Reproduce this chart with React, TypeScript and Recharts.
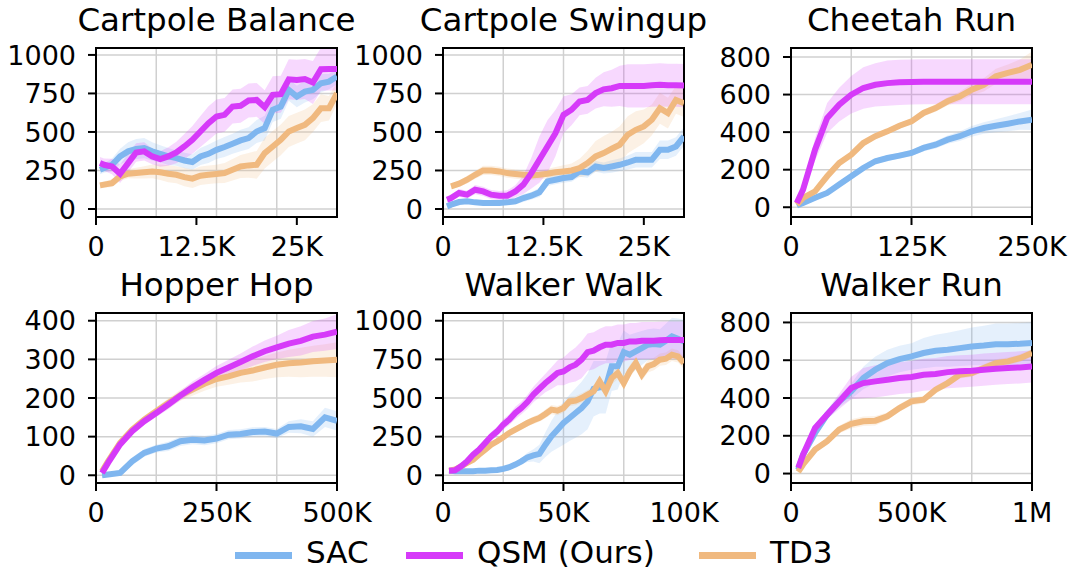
import React from "react";
import {
  ComposedChart,
  Line,
  Area,
  XAxis,
  YAxis,
  CartesianGrid,
  ReferenceArea,
} from "recharts";

const FONT = "'DejaVu Sans', sans-serif";
const SAC_COLOR = "#7fb6ef";
const QSM_COLOR = "#d63af9";
const TD3_COLOR = "#f0b97f";

const seriesNames = ["SAC", "QSM (Ours)", "TD3"];

// Cartpole Balance
const cbX = [500, 1000, 2000, 3000, 4000, 5000, 6000, 7000, 8000, 9000, 10000, 11000, 12000, 13000, 14000, 15000, 16000, 17000, 18000, 19000, 20000, 21000, 22000, 23000, 24000, 25000, 26000, 27000, 28000, 29000, 30000];
const cbSac = [255, 266, 287, 341, 374, 389, 395, 374, 358, 341, 330, 315, 305, 341, 358, 384, 402, 423, 445, 460, 503, 525, 644, 665, 773, 730, 762, 773, 816, 827, 860];
const cbQsm = [298, 287, 276, 229, 298, 367, 374, 341, 324, 341, 367, 406, 449, 503, 557, 600, 611, 665, 670, 704, 708, 661, 741, 745, 842, 838, 844, 821, 907, 909, 909];
const cbTd3 = [153, 158, 168, 212, 229, 233, 238, 244, 238, 229, 222, 207, 197, 216, 222, 227, 233, 255, 276, 283, 287, 363, 406, 449, 503, 525, 546, 590, 654, 654, 752];
const cbSacErr = [30, 30, 40, 50, 60, 65, 65, 60, 55, 55, 50, 50, 50, 55, 60, 60, 65, 65, 70, 70, 75, 80, 80, 80, 70, 70, 70, 60, 60, 50, 50];
const cbQsmErr = [40, 40, 50, 60, 60, 60, 60, 50, 50, 60, 70, 80, 90, 100, 110, 110, 110, 110, 110, 110, 110, 110, 120, 120, 130, 130, 130, 140, 140, 140, 140];
const cbTd3Err = [20, 20, 25, 30, 30, 35, 40, 45, 50, 55, 55, 60, 60, 60, 60, 60, 65, 70, 75, 80, 90, 100, 100, 100, 100, 100, 100, 90, 90, 80, 70];

// Cartpole Swingup
const csX = cbX;
const csSac = [17, 28, 45, 50, 43, 39, 39, 39, 43, 50, 71, 86, 108, 179, 190, 201, 207, 244, 238, 276, 266, 276, 287, 302, 320, 320, 320, 384, 384, 406, 471];
const csQsm = [60, 71, 104, 93, 125, 114, 93, 86, 86, 114, 158, 233, 320, 406, 492, 611, 644, 698, 708, 752, 777, 784, 799, 799, 799, 799, 803, 806, 803, 803, 801];
const csTd3 = [null, 147, 164, 190, 222, 250, 250, 244, 233, 227, 222, 218, 222, 229, 238, 244, 250, 266, 298, 341, 363, 391, 417, 482, 514, 536, 579, 654, 622, 708, 687];
const csSacErr = [10, 10, 15, 15, 15, 15, 15, 15, 15, 20, 25, 25, 30, 30, 30, 30, 30, 35, 35, 35, 35, 40, 40, 45, 50, 50, 50, 60, 60, 60, 60];
const csQsmErr = [20, 20, 25, 25, 30, 30, 30, 30, 35, 40, 60, 100, 150, 170, 150, 120, 100, 90, 90, 100, 110, 120, 130, 140, 140, 140, 140, 140, 140, 140, 140];
const csTd3Err = [null, 20, 20, 25, 25, 30, 30, 30, 30, 30, 30, 30, 30, 30, 35, 40, 45, 60, 80, 100, 110, 110, 120, 120, 120, 110, 100, 100, 100, 90, 90];

// Cheetah Run
const crX = [6000, 12500, 25000, 37500, 50000, 62500, 75000, 87500, 100000, 112500, 125000, 137500, 150000, 162500, 175000, 187500, 200000, 212500, 225000, 237500, 250000];
const crSac = [9, 23, 50, 76, 121, 165, 209, 245, 262, 275, 289, 316, 333, 360, 378, 404, 422, 434, 445, 457, 466];
const crQsm = [23, 94, 307, 475, 546, 599, 635, 652, 661, 665, 667, 668, 668, 668, 668, 668, 668, 668, 668, 668, 668];
const crTd3 = [14, 50, 85, 165, 236, 280, 342, 378, 404, 434, 457, 502, 528, 564, 590, 626, 652, 697, 715, 732, 759];
const crSacErr = [5, 8, 10, 10, 12, 12, 15, 15, 15, 15, 15, 18, 20, 22, 25, 28, 30, 35, 40, 45, 55];
const crQsmErr = [10, 30, 60, 80, 90, 100, 110, 115, 120, 120, 120, 120, 120, 120, 120, 120, 120, 120, 120, 120, 120];
const crTd3Err = [5, 8, 10, 12, 15, 15, 15, 15, 15, 15, 15, 18, 20, 22, 25, 30, 35, 40, 45, 55, 70];

// Hopper Hop
const hhX = [12500, 25000, 50000, 75000, 100000, 125000, 150000, 175000, 200000, 225000, 250000, 275000, 300000, 325000, 350000, 375000, 400000, 425000, 450000, 475000, 500000];
const hhSac = [0, 2, 6, 36, 58, 69, 75, 88, 92, 90, 95, 105, 107, 112, 113, 108, 125, 127, 120, 150, 141];
const hhQsm = [6, 32, 80, 114, 140, 161, 183, 206, 228, 247, 265, 279, 293, 308, 321, 331, 341, 348, 359, 364, 372];
const hhTd3 = [10, 36, 84, 118, 144, 166, 187, 207, 222, 237, 249, 256, 265, 271, 279, 286, 290, 292, 295, 297, 299];
const hhSacErr = [3, 5, 8, 10, 10, 10, 12, 12, 12, 12, 12, 12, 12, 12, 12, 12, 15, 18, 20, 25, 25];
const hhQsmErr = [3, 5, 8, 10, 10, 10, 12, 12, 15, 15, 18, 20, 22, 25, 28, 30, 35, 38, 40, 42, 45];
const hhTd3Err = [3, 5, 8, 8, 10, 10, 12, 14, 16, 18, 20, 22, 25, 28, 30, 32, 35, 38, 40, 42, 45];

// Walker Walk
const wwX = [2500, 5000, 7500, 10000, 12500, 15000, 17500, 20000, 22500, 25000, 27500, 30000, 32500, 35000, 37500, 40000, 42500, 45000, 47500, 50000, 52500, 55000, 57500, 60000, 62500, 65000, 67500, 70000, 72500, 75000, 77500, 80000, 82500, 85000, 87500, 90000, 92500, 95000, 97500, 100000];
const wwSac = [30, 26, 26, 26, 26, 30, 30, 32, 34, 41, 52, 69, 90, 116, 129, 138, 198, 252, 295, 338, 371, 403, 435, 478, 560, 569, 569, 705, 705, 797, 780, 802, 823, 845, 849, 845, 871, 899, 884, 866];
const wwQsm = [30, 32, 58, 90, 134, 166, 209, 252, 284, 328, 360, 403, 435, 474, 522, 560, 597, 629, 662, 672, 698, 716, 748, 797, 806, 828, 845, 845, 856, 856, 866, 866, 871, 871, 871, 873, 875, 875, 875, 875];
const wwTd3 = [30, 37, 58, 80, 101, 134, 166, 198, 220, 246, 274, 295, 317, 338, 356, 371, 397, 425, 418, 435, 478, 483, 500, 522, 543, 608, 543, 629, 662, 597, 672, 726, 651, 705, 720, 748, 754, 780, 769, 726];
const wwSacErr = [5, 5, 5, 5, 5, 5, 5, 5, 5, 8, 10, 15, 20, 30, 40, 60, 80, 100, 120, 140, 150, 160, 170, 180, 180, 170, 170, 160, 150, 140, 130, 120, 110, 100, 100, 100, 110, 120, 130, 140];
const wwQsmErr = [5, 5, 8, 10, 15, 20, 25, 30, 30, 35, 35, 40, 40, 45, 50, 55, 60, 70, 80, 90, 100, 110, 120, 120, 120, 120, 120, 120, 120, 120, 120, 120, 120, 120, 120, 120, 120, 120, 120, 120];
const wwTd3Err = [5, 5, 8, 10, 10, 12, 15, 15, 15, 18, 20, 20, 20, 22, 25, 25, 28, 30, 30, 30, 30, 30, 30, 30, 30, 35, 35, 40, 40, 40, 40, 40, 40, 40, 40, 40, 40, 40, 40, 40];

// Walker Run
const wrX = [30000, 50000, 100000, 150000, 200000, 250000, 300000, 350000, 400000, 450000, 500000, 550000, 600000, 650000, 700000, 750000, 800000, 850000, 900000, 950000, 1000000];
const wrSac = [21, 100, 215, 312, 382, 435, 506, 550, 585, 606, 620, 638, 650, 655, 664, 673, 678, 685, 685, 687, 691];
const wrQsm = [30, 100, 241, 312, 382, 453, 479, 488, 497, 506, 511, 523, 527, 537, 541, 544, 550, 555, 559, 562, 567];
const wrTd3 = [9, 48, 127, 171, 233, 263, 277, 280, 303, 347, 382, 391, 444, 479, 523, 532, 559, 585, 594, 611, 638];
const wrSacErr = [10, 15, 20, 25, 30, 40, 60, 70, 70, 70, 70, 80, 85, 90, 95, 100, 105, 110, 110, 110, 110];
const wrQsmErr = [10, 15, 20, 25, 40, 60, 80, 85, 85, 85, 85, 85, 85, 85, 85, 85, 85, 85, 85, 85, 85];
const wrTd3Err = [8, 10, 15, 20, 20, 25, 25, 25, 20, 20, 20, 20, 20, 20, 20, 20, 20, 20, 20, 20, 20];

// axes
const ticks1000 = [0, 250, 500, 750, 1000];
const ticks800 = [0, 200, 400, 600, 800];
const ticks400 = [0, 100, 200, 300, 400];
const cartpoleXTicks = [0, 12500, 25000];
const cartpoleXLabels = ["0", "12.5K", "25K"];
const cheetahXTicks = [0, 125000, 250000];
const cheetahXLabels = ["0", "125K", "250K"];
const hopperXTicks = [0, 250000, 500000];
const hopperXLabels = ["0", "250K", "500K"];
const walkXTicks = [0, 50000, 100000];
const walkXLabels = ["0", "50K", "100K"];
const runXTicks = [0, 500000, 1000000];
const runXLabels = ["0", "500K", "1M"];

const PLOT_W = 241;
const Y_AXIS_W = 90;
const X_AXIS_H = 50;
const TOP_PAD = 10;
const RIGHT_PAD = 40;
const TITLE_SIZE = 32.5;
const TICK_SIZE = 27;
const LEGEND_SIZE = 31;

type Num = number | null;

const band = (m: Num, e: Num) => (m == null || e == null ? null : [m - e, m + e]);

const Panel = (props: any) => {
  const { title, left, top, plotH, x, sac, qsm, td3, sacErr, qsmErr, td3Err, xMax, xTicks, xLabels, yDomain, yTicks } = props;
  const rows = x.map((v: number, i: number) => ({
    x: v,
    sac: sac[i],
    qsm: qsm[i],
    td3: td3[i],
    sacBand: band(sac[i], sacErr[i]),
    qsmBand: band(qsm[i], qsmErr[i]),
    td3Band: band(td3[i], td3Err[i]),
  }));
  const xGrid = [0, xMax / 4, xMax / 2, (3 * xMax) / 4, xMax];
  const tickStyle = { fill: "#000", fontSize: TICK_SIZE, fontFamily: FONT };
  const axisLine = { stroke: "#000", strokeWidth: 2 };
  // baseline of the title sits ~16px above the top spine
  const titleTop = top - 16.5 - 0.846 * TITLE_SIZE;
  return (
    <>
      <div
        style={{
          position: "absolute",
          left: left - 80,
          width: PLOT_W + 160,
          top: titleTop,
          textAlign: "center",
          fontFamily: FONT,
          fontSize: TITLE_SIZE,
          lineHeight: `${TITLE_SIZE}px`,
          whiteSpace: "nowrap",
          color: "#000",
        }}
      >
        {title}
      </div>
      <div style={{ position: "absolute", left: left - Y_AXIS_W, top: top - TOP_PAD }}>
        <ComposedChart
          width={Y_AXIS_W + PLOT_W + RIGHT_PAD}
          height={TOP_PAD + plotH + X_AXIS_H}
          data={rows}
          margin={{ top: TOP_PAD, right: RIGHT_PAD, left: 0, bottom: 0 }}
        >
          <CartesianGrid stroke="#d0d0d0" strokeWidth={1.5} horizontalValues={yTicks} verticalValues={xGrid} />
          <XAxis
            dataKey="x"
            type="number"
            domain={[0, xMax]}
            ticks={xTicks}
            interval={0}
            allowDataOverflow
            tickFormatter={(v: number) => xLabels[xTicks.indexOf(v)]}
            height={X_AXIS_H}
            tickSize={8}
            tickMargin={12}
            axisLine={axisLine}
            tickLine={axisLine}
            tick={tickStyle}
          />
          <YAxis
            type="number"
            domain={yDomain}
            ticks={yTicks}
            interval={0}
            allowDataOverflow
            width={Y_AXIS_W}
            tickSize={8}
            tickMargin={12}
            axisLine={axisLine}
            tickLine={axisLine}
            tick={tickStyle}
          />
          <Area dataKey="sacBand" stroke="none" fill={SAC_COLOR} fillOpacity={0.2} isAnimationActive={false} />
          <Area dataKey="td3Band" stroke="none" fill={TD3_COLOR} fillOpacity={0.2} isAnimationActive={false} />
          <Area dataKey="qsmBand" stroke="none" fill={QSM_COLOR} fillOpacity={0.2} isAnimationActive={false} />
          <Line dataKey="sac" stroke={SAC_COLOR} strokeWidth={6} dot={false} isAnimationActive={false} />
          <Line dataKey="td3" stroke={TD3_COLOR} strokeWidth={6} dot={false} isAnimationActive={false} />
          <Line dataKey="qsm" stroke={QSM_COLOR} strokeWidth={6} dot={false} isAnimationActive={false} />
          <ReferenceArea x1={0} x2={xMax} y1={yDomain[0]} y2={yDomain[1]} fill="none" stroke="#000" strokeWidth={2} ifOverflow="visible" />
        </ComposedChart>
      </div>
    </>
  );
};

const legendItems = [
  { name: seriesNames[0], color: SAC_COLOR, left: 235 },
  { name: seriesNames[1], color: QSM_COLOR, left: 406 },
  { name: seriesNames[2], color: TD3_COLOR, left: 699 },
];

const LEGEND_BASELINE = 563.5;

const App = () => {
  return (
    <div style={{ position: "absolute", left: 0, top: 0, width: 1072, height: 571, background: "#fff" }}>
      <Panel title="Cartpole Balance" left={96} top={48} plotH={169} x={cbX} sac={cbSac} qsm={cbQsm} td3={cbTd3}
        sacErr={cbSacErr} qsmErr={cbQsmErr} td3Err={cbTd3Err} xMax={30000} xTicks={cartpoleXTicks} xLabels={cartpoleXLabels}
        yDomain={[-52, 1045]} yTicks={ticks1000} />
      <Panel title="Cartpole Swingup" left={443} top={48} plotH={169} x={csX} sac={csSac} qsm={csQsm} td3={csTd3}
        sacErr={csSacErr} qsmErr={csQsmErr} td3Err={csTd3Err} xMax={30000} xTicks={cartpoleXTicks} xLabels={cartpoleXLabels}
        yDomain={[-52, 1045]} yTicks={ticks1000} />
      <Panel title="Cheetah Run" left={791} top={48} plotH={169} x={crX} sac={crSac} qsm={crQsm} td3={crTd3}
        sacErr={crSacErr} qsmErr={crQsmErr} td3Err={crTd3Err} xMax={250000} xTicks={cheetahXTicks} xLabels={cheetahXLabels}
        yDomain={[-52, 848]} yTicks={ticks800} />
      <Panel title="Hopper Hop" left={96} top={313} plotH={170} x={hhX} sac={hhSac} qsm={hhQsm} td3={hhTd3}
        sacErr={hhSacErr} qsmErr={hhQsmErr} td3Err={hhTd3Err} xMax={500000} xTicks={hopperXTicks} xLabels={hopperXLabels}
        yDomain={[-20, 420]} yTicks={ticks400} />
      <Panel title="Walker Walk" left={443} top={313} plotH={170} x={wwX} sac={wwSac} qsm={wwQsm} td3={wwTd3}
        sacErr={wwSacErr} qsmErr={wwQsmErr} td3Err={wwTd3Err} xMax={100000} xTicks={walkXTicks} xLabels={walkXLabels}
        yDomain={[-50, 1050]} yTicks={ticks1000} />
      <Panel title="Walker Run" left={791} top={313} plotH={170} x={wrX} sac={wrSac} qsm={wrQsm} td3={wrTd3}
        sacErr={wrSacErr} qsmErr={wrQsmErr} td3Err={wrTd3Err} xMax={1000000} xTicks={runXTicks} xLabels={runXLabels}
        yDomain={[-50, 850]} yTicks={ticks800} />
      {legendItems.map((item) => (
        <React.Fragment key={item.name}>
          <div style={{ position: "absolute", left: item.left, top: 552, width: 57, height: 7, background: item.color }} />
          <div
            style={{
              position: "absolute",
              left: item.left + 71,
              top: LEGEND_BASELINE - 0.846 * LEGEND_SIZE,
              fontFamily: FONT,
              fontSize: LEGEND_SIZE,
              lineHeight: `${LEGEND_SIZE}px`,
              color: "#000",
              whiteSpace: "nowrap",
            }}
          >
            {item.name}
          </div>
        </React.Fragment>
      ))}
    </div>
  );
};

export default App;
